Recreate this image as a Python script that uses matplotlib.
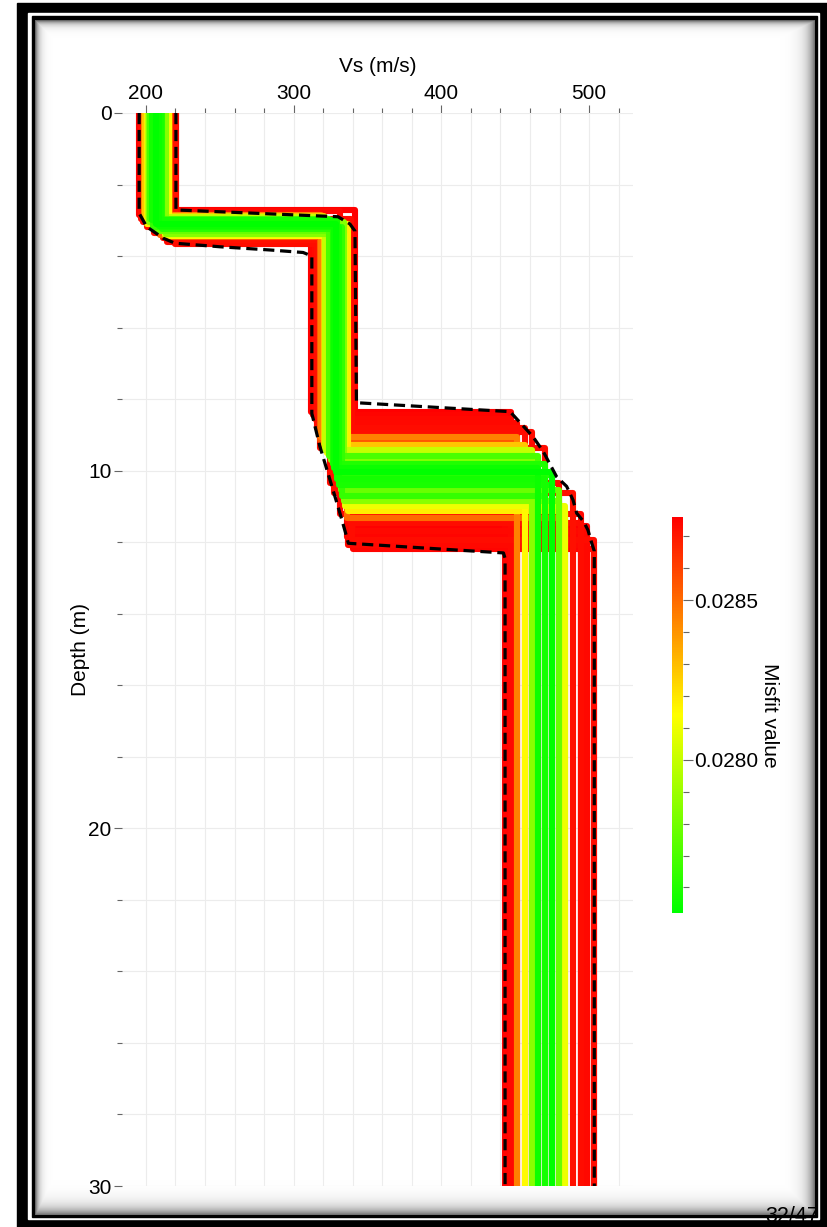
import numpy as np
import matplotlib
matplotlib.use("Agg")
import matplotlib.pyplot as plt
from matplotlib.colors import LinearSegmentedColormap, Normalize
from matplotlib.patches import Rectangle
from matplotlib.ticker import MultipleLocator, FormatStrFormatter
import matplotlib.cm as cm

plt.rcParams['font.family'] = ['Liberation Sans', 'DejaVu Sans']

# ===============================
# profiles (one entry per model)
# layer 1: vs1 down to z1, layer 2: vs2 down to z2, half-space: vs3
# ===============================
vs1 = [195.4, 196.0, 218.5, 220.3, 219.6, 201.0, 198.5, 216.5, 199.5, 211.5,
       201.5, 215.5, 203.0, 213.5, 206.0, 209.0, 207.0, 211.0, 204.0, 205.5,
       210.0, 207.5, 220.0, 205.0, 202.0, 213.0, 200.5, 197.0, 209.5, 196.5,
       195.8, 217.5, 198.0, 219.5, 214.5, 220.3]
z1 = [2.86, 2.78, 3.62, 3.58, 3.66, 3.20, 2.84, 3.48, 2.88, 3.50,
      2.92, 3.45, 2.95, 3.38, 3.05, 3.15, 3.10, 3.25, 3.00, 3.36,
      3.20, 3.30, 3.55, 3.18, 3.05, 3.42, 3.10, 2.74, 3.42, 2.95,
      2.72, 3.60, 3.05, 3.52, 3.62, 3.64]
vs2 = [312.0, 313.0, 314.5, 316.0, 315.8, 317.0, 318.5, 318.0, 320.5, 317.8,
       321.5, 322.5, 324.0, 325.0, 326.5, 327.5, 328.5, 330.0, 329.5, 324.8,
       331.0, 332.0, 327.5, 333.0, 334.0, 335.0, 336.8, 331.4, 336.0, 338.5,
       341.5, 337.5, 335.9, 339.5, 337.0, 340.0]
z2 = [8.35, 8.45, 8.55, 8.68, 8.80, 8.92, 9.05, 9.15, 9.27, 9.38,
      9.42, 9.50, 9.60, 9.70, 9.80, 9.92, 10.05, 10.12, 10.22, 10.35,
      10.40, 10.55, 10.62, 10.70, 10.85, 11.00, 11.12, 11.22, 11.32, 11.45,
      11.55, 11.68, 11.85, 11.95, 12.08, 12.20]
vs3 = [447.1, 443.1, 447.1, 451.5, 456.3, 461.0, 451.5, 451.5, 456.3, 469.8,
       461.0, 456.3, 465.4, 461.0, 469.8, 465.4, 474.9, 474.9, 469.8, 479.6,
       474.9, 479.6, 489.1, 469.8, 479.6, 484.0, 484.0, 494.2, 484.0, 494.2,
       498.9, 498.9, 494.2, 503.3, 498.9, 503.3]
misfit = [0.02876, 0.02875, 0.02874, 0.02874, 0.02873, 0.02873, 0.02845, 0.02855, 0.02828, 0.02873,
          0.02800, 0.02815, 0.02770, 0.02785, 0.02760, 0.02755, 0.02752, 0.02762, 0.02757, 0.02873,
          0.02758, 0.02778, 0.02872, 0.02765, 0.02785, 0.02810, 0.02818, 0.02874, 0.02850, 0.02873,
          0.02876, 0.02874, 0.02875, 0.02873, 0.02874, 0.02875]

# min / max envelope (dashed)
lo_vs = [195.4, 195.4, 200.5, 211.7, 219.6, 250.0, 284.0, 306.4, 312.3, 312.3,
         317.8, 324.6, 331.4, 335.9, 337.0, 442.0, 443.1, 443.1]
lo_z = [0.0, 2.80, 3.18, 3.50, 3.64, 3.74, 3.83, 3.90, 4.00, 8.40,
        9.33, 10.26, 11.20, 11.85, 12.03, 12.30, 12.45, 30.0]
hi_vs = [220.3, 220.3, 330.0, 338.0, 341.5, 342.5, 446.5, 462.0, 469.0, 478.0,
         484.8, 489.1, 491.6, 496.2, 499.2, 501.8, 503.5, 503.5]
hi_z = [0.0, 2.71, 2.90, 3.10, 3.30, 8.10, 8.35, 9.05, 9.47, 10.17,
        10.44, 10.82, 11.19, 11.42, 11.66, 12.03, 12.25, 30.0]

max_depth = 30.0

# ===============================
# figure + slide frame
# ===============================
fig = plt.figure(figsize=(8.27, 12.27), dpi=100)

bg = fig.add_axes([0, 0, 1, 1], zorder=0)
bg.axis('off')
bg.add_patch(Rectangle((17, 3), 820, 1234, color='black', zorder=1))
bg.add_patch(Rectangle((28, 13), 791, 1206, color='white', zorder=1))
bg.add_patch(Rectangle((32, 16), 785, 1201, color='black', zorder=1))
W, H = 780, 1195
xx = np.arange(W)[None, :]
yy = np.arange(H)[:, None]
shade = np.maximum(np.maximum(0.6 * np.exp(-xx / 3.5), 0.6 * np.exp(-yy / 3.5)),
                   np.maximum(0.55 * np.exp(-(W - 1 - xx) / 7.0), 0.55 * np.exp(-(H - 1 - yy) / 7.0)))
bg.imshow(1 - shade, cmap='gray', vmin=0, vmax=1, extent=(35, 815, 1215, 20),
          aspect='auto', interpolation='bilinear', zorder=2)
bg.set_xlim(0, 827)
bg.set_ylim(1227, 0)
bg.text(819, 1222, '32/47', ha='right', va='baseline', fontsize=15.5, color='black', zorder=5)

# ===============================
# profiles
# ===============================
cmap = LinearSegmentedColormap.from_list('gyr', ['#00ff00', '#ffff00', '#ff0000'])
mis = np.array(misfit)
norm = Normalize(vmin=mis.min(), vmax=mis.max())

ax = fig.add_axes([122 / 827, 1 - 1186 / 1227, 511 / 827, 1073 / 1227], zorder=1)
ax.patch.set_visible(False)

# worst models first, best on top
for i in np.argsort(-mis, kind='stable'):
    vs = [vs1[i], vs1[i], vs2[i], vs2[i], vs3[i], vs3[i]]
    zz = [0, z1[i], z1[i], z2[i], z2[i], max_depth]
    ax.plot(vs, zz, color=cmap(norm(mis[i])), lw=4.4, zorder=2)

ax.plot(lo_vs, lo_z, color='black', lw=2.3, dashes=(3.5, 1.8), zorder=3)
ax.plot(hi_vs, hi_z, color='black', lw=2.3, dashes=(3.5, 1.8), zorder=3)

ax.set_xlim(183.8, 529.7)
ax.set_ylim(max_depth, 0)

ax.xaxis.set_ticks_position('top')
ax.xaxis.set_label_position('top')
ax.set_xticks([200, 300, 400, 500])
ax.xaxis.set_minor_locator(MultipleLocator(20))
ax.set_yticks([0, 10, 20, 30])
ax.yaxis.set_minor_locator(MultipleLocator(2))
ax.tick_params(which='major', length=6, width=0.8, color='#666666', pad=1.5, labelsize=15)
ax.tick_params(which='minor', length=3.6, width=0.8, color='#666666')
ax.grid(which='both', color='#ececec', lw=0.8)
ax.set_axisbelow(True)
for s in ax.spines.values():
    s.set_visible(False)

ax.set_xlabel('Vs (m/s)', fontsize=15, labelpad=8)
ax.set_ylabel('Depth (m)', fontsize=15)
ax.yaxis.set_label_coords(-0.063, 0.5)

# ===============================
# colour bar
# ===============================
cax = fig.add_axes([672 / 827, 1 - 913 / 1227, 11 / 827, 396 / 1227], zorder=1)
sm = cm.ScalarMappable(norm=norm, cmap=cmap)
cbar = fig.colorbar(sm, cax=cax)
cbar.outline.set_visible(False)
cbar.set_ticks([0.0280, 0.0285])
cbar.ax.yaxis.set_major_formatter(FormatStrFormatter('%.4f'))
cbar.ax.yaxis.set_minor_locator(MultipleLocator(0.0001))
cbar.ax.tick_params(which='major', length=7, width=0.8, color='#666666', pad=1, labelsize=15)
cbar.ax.tick_params(which='minor', length=4.3, width=0.8, color='#666666')
fig.text(770 / 827, 1 - 715 / 1227, 'Misfit value', rotation=270, ha='center', va='center', fontsize=15)

fig.savefig('out.png', dpi=100)
